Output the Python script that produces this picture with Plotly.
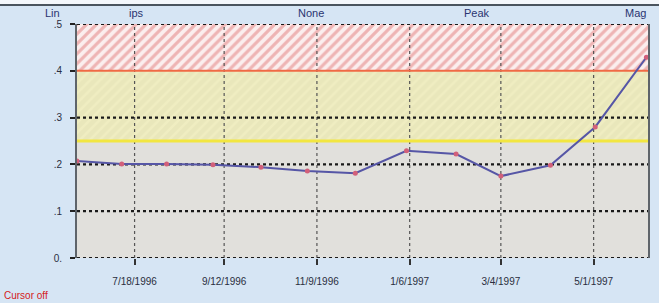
import plotly.graph_objects as go

# ---- data ----
dates = ["1996-06-12", "1996-07-10", "1996-08-07", "1996-09-05", "1996-10-05",
         "1996-11-03", "1996-12-03", "1997-01-04", "1997-02-04", "1997-03-04",
         "1997-04-04", "1997-05-02", "1997-06-03"]
values = [0.207, 0.201, 0.201, 0.199, 0.194, 0.186, 0.181, 0.229, 0.222,
          0.175, 0.198, 0.280, 0.429]

x_tick_vals = ["1996-07-18", "1996-09-12", "1996-11-09", "1997-01-06", "1997-03-04", "1997-05-01"]
x_tick_text = ["7/18/1996", "9/12/1996", "11/9/1996", "1/6/1997", "3/4/1997", "5/1/1997"]
y_tick_vals = [0.0, 0.1, 0.2, 0.3, 0.4, 0.5]
y_tick_text = ["0.", ".1", ".2", ".3", ".4", ".5"]

x_range = ["1996-06-12", "1997-06-04"]
y_range = [0.0, 0.5]

alert_level = 0.25
danger_level = 0.4

header_labels = ["Lin", "ips", "None", "Peak", "Mag"]

# ---- figure ----
fig = go.Figure()

x0, x1 = x_range
# yellow (alert) zone
fig.add_trace(go.Scatter(
    x=[x0, x1, x1, x0, x0], y=[alert_level, alert_level, danger_level, danger_level, alert_level],
    fill="toself", mode="lines", line=dict(width=0),
    fillcolor="#ecebc3",
    fillpattern=dict(shape="/", fgcolor="#f6f3c8", bgcolor="#e9e7bb", size=7, solidity=0.35),
    hoverinfo="skip", showlegend=False))
# red (danger) zone
fig.add_trace(go.Scatter(
    x=[x0, x1, x1, x0, x0], y=[danger_level, danger_level, y_range[1], y_range[1], danger_level],
    fill="toself", mode="lines", line=dict(width=0),
    fillcolor="#f6dede",
    fillpattern=dict(shape="/", fgcolor="#e27a7a", bgcolor="#fbeeee", size=7, solidity=0.45),
    hoverinfo="skip", showlegend=False))

# vertical grid lines
for xv in x_tick_vals:
    fig.add_trace(go.Scatter(x=[xv, xv], y=y_range, mode="lines",
                             line=dict(color="#555555", width=1.2, dash="dot"),
                             hoverinfo="skip", showlegend=False))
# horizontal grid lines
for yv in y_tick_vals:
    if yv == danger_level:
        continue
    fig.add_trace(go.Scatter(x=x_range, y=[yv, yv], mode="lines",
                             line=dict(color="#1a1a1a", width=2.2, dash="dot"),
                             hoverinfo="skip", showlegend=False))

# threshold lines
fig.add_trace(go.Scatter(x=x_range, y=[alert_level, alert_level], mode="lines",
                         line=dict(color="#f2e640", width=3),
                         hoverinfo="skip", showlegend=False))
fig.add_trace(go.Scatter(x=x_range, y=[danger_level, danger_level], mode="lines",
                         line=dict(color="#f06a45", width=2),
                         hoverinfo="skip", showlegend=False))

# data
fig.add_trace(go.Scatter(x=dates, y=values, mode="lines+markers",
                         line=dict(color="#5656a6", width=2),
                         marker=dict(color="#d2607a", size=5),
                         showlegend=False))

# header strip
fig.add_shape(type="rect", xref="paper", yref="paper", x0=-0.2, x1=1.1, y0=1.085, y1=1.2,
              fillcolor="#f4f7fb", line=dict(width=0))
fig.add_shape(type="line", xref="paper", yref="paper", x0=-0.2, x1=1.1, y0=1.081, y1=1.081,
              line=dict(color="#4a545e", width=2))

# header labels
header_pos = [(-0.026, "right"), (0.105, "center"), (0.41, "center"), (0.70, "center"), (1.0, "right")]
for lab, (xp, anc) in zip(header_labels, header_pos):
    fig.add_annotation(text=lab, xref="paper", yref="paper", x=xp, y=1.047,
                       xanchor=anc, yanchor="middle", showarrow=False,
                       font=dict(family="Liberation Sans, Arial", size=11, color="#2a3470"))

fig.add_annotation(text="Cursor off", xref="paper", yref="paper", x=-0.131, y=-0.162,
                   xanchor="left", yanchor="middle", showarrow=False,
                   font=dict(family="Liberation Sans, Arial", size=10, color="#d42020"))

fig.update_layout(
    width=659, height=303,
    margin=dict(l=77, r=9, t=24, b=45),
    paper_bgcolor="#d6e5f4",
    plot_bgcolor="#e1e0dc",
    font=dict(family="Liberation Sans, Arial", size=10, color="#2a2e40"),
    xaxis=dict(type="date", range=x_range, tickvals=x_tick_vals, ticktext=x_tick_text,
               showgrid=False, zeroline=False, showline=False,
               ticks="outside", ticklen=6, tickwidth=2, tickcolor="#333333",
               ticklabelstandoff=8),
    yaxis=dict(range=y_range, tickvals=y_tick_vals, ticktext=y_tick_text,
               showgrid=False, zeroline=False, showline=True, mirror=True,
               linecolor="#5e646a", linewidth=2,
               ticks="outside", ticklen=5, tickwidth=2, tickcolor="#222222",
               ticklabelstandoff=6),
)

fig.write_html("out.html", config={"displayModeBar": False},
               post_script="document.body.style.margin='0px';document.body.style.overflow='hidden';")
